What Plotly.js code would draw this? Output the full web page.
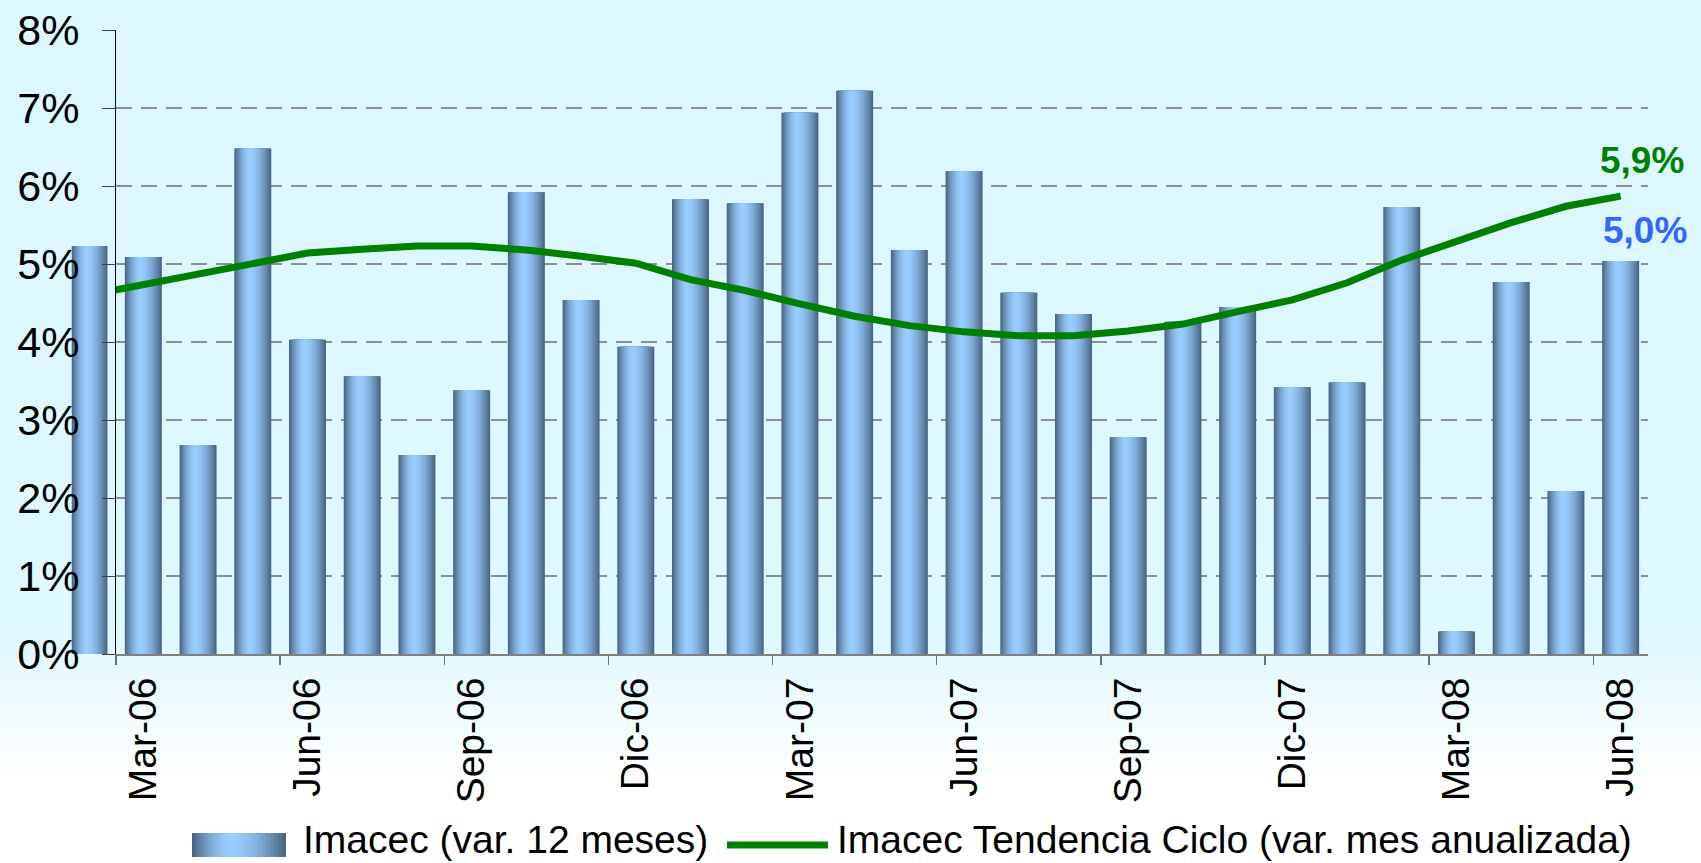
<!DOCTYPE html>
<html>
<head>
<meta charset="utf-8">
<script src="https://cdn.plot.ly/plotly-3.0.1.min.js"></script>
<style>
html,body{margin:0;padding:0;}
body{width:1701px;height:863px;overflow:hidden;
background:linear-gradient(to bottom,#dbf7fd 0px,#ddf8fe 630px,#eefbfe 700px,#ffffff 780px,#ffffff 863px);}
#chart{width:1701px;height:863px;}
</style>
</head>
<body>
<div id="chart"></div>
<script>
// ---- data ----
const months = ["Feb-06","Mar-06","Abr-06","May-06","Jun-06","Jul-06","Ago-06","Sep-06","Oct-06","Nov-06","Dic-06",
  "Ene-07","Feb-07","Mar-07","Abr-07","May-07","Jun-07","Jul-07","Ago-07","Sep-07","Oct-07","Nov-07","Dic-07",
  "Ene-08","Feb-08","Mar-08","Abr-08","May-08","Jun-08"];
const imacec12m = [5.23,5.09,2.68,6.48,4.03,3.56,2.55,3.38,5.92,4.54,3.94,
  5.83,5.78,6.94,7.22,5.18,6.19,4.63,4.36,2.78,4.26,4.45,3.42,
  3.48,5.73,0.29,4.77,2.09,5.04];
const tendenciaCiclo = [4.60,4.74,4.87,5.00,5.14,5.19,5.23,5.23,5.18,5.10,5.01,
  4.80,4.66,4.49,4.33,4.21,4.13,4.08,4.08,4.14,4.23,4.39,4.54,
  4.76,5.05,5.29,5.53,5.74,5.87];
const tickLabels = ["Mar-06","Jun-06","Sep-06","Dic-06","Mar-07","Jun-07","Sep-07","Dic-07","Mar-08","Jun-08"];
const seriesNames = ["Imacec (var. 12 meses)","Imacec Tendencia Ciclo (var. mes anualizada)"];

// ---- helpers ----
const idx = months.map((m,i)=>i);
const tickIdx = tickLabels.map(l=>months.indexOf(l));
const last = months.length-1;
const FONT = "Liberation Sans, Arial, Helvetica, sans-serif";
const dark = [70,96,124], light = [153,204,255];
function mix(t){
  const c = dark.map((d,i)=>Math.round(d+(light[i]-d)*t));
  return "rgb("+c.join(",")+")";
}
const N = 14, PEAK = 0.42, BW = 0.676;
function layer(k){
  const lev = k/N;
  const ul = PEAK*lev, ur = 1-(1-PEAK)*lev;
  const t = (k+0.5)/N;
  const tt = 1-Math.pow(1-t,1.7);
  return {ul, ur, color: mix(tt)};
}
function fmt(v){ return v.toFixed(1).replace('.',',')+'%'; }

// ---- geometry (pixels) ----
const ML = 40, MR = 53, MT = 30, MB = 209, W = 1701, H = 863;
const AXL = 116;                       // y axis position
const PW = W-ML-MR, PH = H-MT-MB;
const dSplit = (AXL-ML)/PW;            // domain split
const unitPx = (W-MR-AXL)/(last+1);    // px per month in main area
const leftRange = [0.5-(AXL-ML)/unitPx, 0.5];

const traces = [];
// bars: first month sits left of the y axis (own helper subplot x/y), rest in main subplot x2/y2
for(const sp of [['x','y'],['x2','y2']]){
  for(let k=0;k<N;k++){
    const L = layer(k);
    traces.push({
      type:'bar', x: idx, y: imacec12m, xaxis:sp[0], yaxis:sp[1],
      width: BW*(L.ur-L.ul), offset: -BW/2 + BW*L.ul,
      marker:{color:L.color, line:{width:0}},
      hoverinfo:'skip', showlegend:false, name: seriesNames[0]
    });
  }
}
traces.push({
  type:'scatter', mode:'lines', x: idx, y: tendenciaCiclo,
  xaxis:'x3', yaxis:'y2',
  line:{color:'#008000', width:7},
  hoverinfo:'skip', showlegend:false, name: seriesNames[1]
});

// ---- manual legend (paper coords) ----
const px = v => (v-ML)/PW, py = v => (H-MB-v)/PH;
const shapes = [];
for(let k=0;k<N;k++){
  const L = layer(k);
  const x0 = 192, x1 = 286;
  shapes.push({type:'rect', xref:'paper', yref:'paper',
    x0: px(x0+(x1-x0)*L.ul), x1: px(x0+(x1-x0)*L.ur), y0: py(857), y1: py(833),
    fillcolor:L.color, line:{width:0}, layer:'above'});
}
shapes.push({type:'line', xref:'paper', yref:'paper', x0:px(727), x1:px(828), y0:py(845), y1:py(845),
  line:{color:'#008000', width:7}, layer:'above'});

const annotations = [
  {xref:'paper', yref:'paper', x:px(301), y:py(839), xanchor:'left', yanchor:'middle', showarrow:false,
   text:seriesNames[0], font:{family:FONT, size:39, color:'#000'}},
  {xref:'paper', yref:'paper', x:px(835), y:py(839), xanchor:'left', yanchor:'middle', showarrow:false,
   text:seriesNames[1], font:{family:FONT, size:39, color:'#000'}},
  {xref:'x2', yref:'y2', x:last, y:tendenciaCiclo[last], xshift:21, yshift:36, showarrow:false,
   text:'<b>'+fmt(tendenciaCiclo[last])+'</b>', font:{family:FONT, size:37, color:'#008000'}},
  {xref:'x2', yref:'y2', x:last, y:imacec12m[last], xshift:24, yshift:30, showarrow:false,
   text:'<b>'+fmt(imacec12m[last])+'</b>', font:{family:FONT, size:37, color:'#3366ff'}}
];

const hidden = {visible:false, showgrid:false, zeroline:false, fixedrange:true};
const layout = {
  width:W, height:H, autosize:false,
  margin:{l:ML, r:MR, t:MT, b:MB, pad:0},
  paper_bgcolor:'rgba(0,0,0,0)', plot_bgcolor:'rgba(0,0,0,0)',
  barmode:'overlay', showlegend:false, hovermode:false,
  font:{family:FONT, color:'#000'},
  xaxis:Object.assign({type:'linear', domain:[0,dSplit], range:leftRange, anchor:'y'}, hidden),
  yaxis:Object.assign({range:[0,8], domain:[0,1], anchor:'x'}, hidden),
  xaxis2:{type:'linear', domain:[dSplit,1], anchor:'y2', range:[0.5, last+0.5],
    tickmode:'array', tickvals:tickIdx, ticktext:tickLabels,
    tickangle:-90, ticks:'', showline:true, linecolor:'#808080', linewidth:2, showgrid:false, zeroline:false,
    tickfont:{family:FONT, size:39, color:'#000'}, ticklabelstandoff:6, fixedrange:true},
  xaxis3:{type:'linear', overlaying:'x2', anchor:'y2', side:'bottom', range:[0.5, last+0.5],
    tickmode:'array', tickvals:tickIdx.map(i=>i-0.5), ticks:'outside', ticklen:10, tickwidth:1.5,
    tickcolor:'#707070', showticklabels:false, showgrid:false, zeroline:false, showline:false, fixedrange:true},
  yaxis2:{domain:[0,1], anchor:'x2', range:[0,8], tickmode:'linear', tick0:0, dtick:1, ticksuffix:'%',
    ticks:'outside', ticklen:13, tickcolor:'#404040', tickwidth:1, showline:true, linecolor:'#000', linewidth:1,
    showgrid:true, gridcolor:'#8f8f8f', gridwidth:1.3, griddash:'16px,9px', zeroline:false,
    tickfont:{family:FONT, size:43, color:'#000'}, ticklabelstandoff:14, fixedrange:true},
  shapes, annotations
};
Plotly.newPlot('chart', traces, layout, {staticPlot:true, displayModeBar:false});
</script>
</body>
</html>
